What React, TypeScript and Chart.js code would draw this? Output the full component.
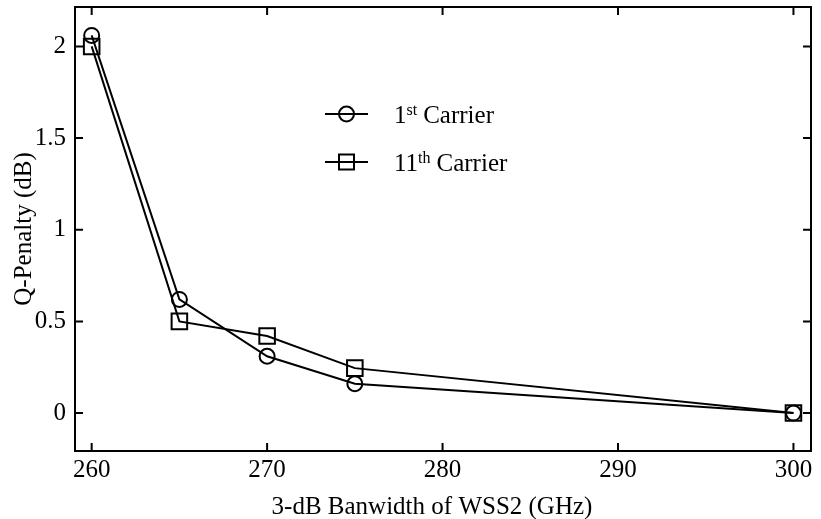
import React, { useEffect, useRef } from "react";
import { Chart, registerables } from "chart.js";
Chart.register(...registerables);

const bandwidths = [260, 265, 270, 275, 300];
const carrier1 = [2.06, 0.62, 0.31, 0.16, 0.0];
const carrier11 = [2.0, 0.5, 0.42, 0.245, 0.0];
const xTickValues = [260, 270, 280, 290, 300];
const yTickValues = [0, 0.5, 1, 1.5, 2];
const seriesNames = ["Carrier", "Carrier"];
const seriesPrefix = ["1", "11"];
const seriesSup = ["st", "th"];
const xTitle = "3-dB Banwidth of WSS2 (GHz)";
const yTitle = "Q-Penalty (dB)";

const FONT = "'Liberation Serif', 'Times New Roman', serif";
const FS = 25;

const framePlugin = {
  id: "frameTicksLegend",
  afterDraw(chart: any) {
    const { ctx, chartArea } = chart;
    const { left, right, top, bottom } = chartArea;
    const xs = chart.scales.x;
    const ys = chart.scales.y;
    ctx.save();
    ctx.strokeStyle = "#000";
    ctx.lineWidth = 2;
    ctx.strokeRect(left, top, right - left, bottom - top);
    const tl = 8;
    ctx.beginPath();
    xTickValues.forEach((v) => {
      const px = xs.getPixelForValue(v);
      ctx.moveTo(px, bottom);
      ctx.lineTo(px, bottom - tl);
      ctx.moveTo(px, top);
      ctx.lineTo(px, top + tl);
    });
    yTickValues.forEach((v) => {
      const py = ys.getPixelForValue(v);
      ctx.moveTo(left, py);
      ctx.lineTo(left + tl, py);
      ctx.moveTo(right, py);
      ctx.lineTo(right - tl, py);
    });
    ctx.stroke();

    // axis titles
    ctx.fillStyle = "#000";
    ctx.font = `${FS}px ${FONT}`;
    ctx.textAlign = "center";
    ctx.textBaseline = "alphabetic";
    ctx.fillText(xTitle, 432, 514);
    ctx.save();
    ctx.translate(31, (top + bottom) / 2);
    ctx.rotate(-Math.PI / 2);
    ctx.fillText(yTitle, 0, 0);
    ctx.restore();

    // legend
    const rows = [114, 162];
    rows.forEach((y, i) => {
      ctx.lineWidth = 2;
      ctx.beginPath();
      ctx.moveTo(325, y);
      ctx.lineTo(368, y);
      ctx.stroke();
      ctx.beginPath();
      if (i === 0) {
        ctx.arc(346.5, y, 7.5, 0, Math.PI * 2);
      } else {
        ctx.rect(339, y - 7.5, 15, 15);
      }
      ctx.stroke();
      ctx.textAlign = "left";
      ctx.textBaseline = "alphabetic";
      ctx.font = `${FS}px ${FONT}`;
      const base = y + 9;
      let x = 394;
      ctx.fillText(seriesPrefix[i], x, base);
      x += ctx.measureText(seriesPrefix[i]).width;
      ctx.font = `16px ${FONT}`;
      ctx.fillText(seriesSup[i], x, base - 8);
      x += ctx.measureText(seriesSup[i]).width + 6;
      ctx.font = `${FS}px ${FONT}`;
      ctx.fillText(seriesNames[i], x, base);
    });
    ctx.restore();
  },
};

export default function App() {
  const ref = useRef<HTMLCanvasElement>(null);
  useEffect(() => {
    document.body.style.margin = "0";
    Chart.defaults.font.family = FONT;
    Chart.defaults.color = "#000";
    const chart = new Chart(ref.current!, {
      type: "line",
      data: {
        datasets: [
          {
            label: "1st Carrier",
            data: bandwidths.map((x, i) => ({ x, y: carrier1[i] })),
            borderColor: "#000",
            borderWidth: 2,
            pointStyle: "circle",
            pointRadius: 7.5,
            pointBorderWidth: 2,
            pointBorderColor: "#000",
            pointBackgroundColor: "rgba(0,0,0,0)",
            tension: 0,
          },
          {
            label: "11th Carrier",
            data: bandwidths.map((x, i) => ({ x, y: carrier11[i] })),
            borderColor: "#000",
            borderWidth: 2,
            pointStyle: "rect",
            pointRadius: 11,
            pointBorderWidth: 2,
            pointBorderColor: "#000",
            pointBackgroundColor: "rgba(0,0,0,0)",
            tension: 0,
          },
        ],
      },
      options: {
        animation: false,
        responsive: false,
        layout: { autoPadding: false, padding: { top: 7, right: 10, left: 0, bottom: 0 } },
        plugins: { legend: { display: false }, tooltip: { enabled: false } },
        scales: {
          x: {
            type: "linear",
            min: 259.05,
            max: 301,
            grid: { display: false, drawTicks: false },
            border: { display: false },
            afterBuildTicks: (s: any) => {
              s.ticks = xTickValues.map((v) => ({ value: v }));
            },
            afterFit: (s: any) => {
              s.height = 68;
              s.paddingLeft = 0;
              s.paddingRight = 0;
            },
            ticks: { font: { size: FS }, padding: 4, maxRotation: 0, callback: (v: any) => String(v) },
          },
          y: {
            type: "linear",
            min: -0.207,
            max: 2.215,
            grid: { display: false, drawTicks: false },
            border: { display: false },
            afterBuildTicks: (s: any) => {
              s.ticks = yTickValues.map((v) => ({ value: v }));
            },
            afterFit: (s: any) => {
              s.width = 75;
              s.paddingTop = 0;
              s.paddingBottom = 0;
            },
            ticks: { font: { size: FS, lineHeight: 0.4 }, padding: 9, callback: (v: any) => String(v) },
          },
        },
      },
      plugins: [framePlugin],
    });
    return () => chart.destroy();
  }, []);
  return (
    <div style={{ position: "absolute", left: 0, top: 0, width: 821, height: 519 }}>
      <canvas ref={ref} width={821} height={519} style={{ width: 821, height: 519, display: "block" }} />
    </div>
  );
}
